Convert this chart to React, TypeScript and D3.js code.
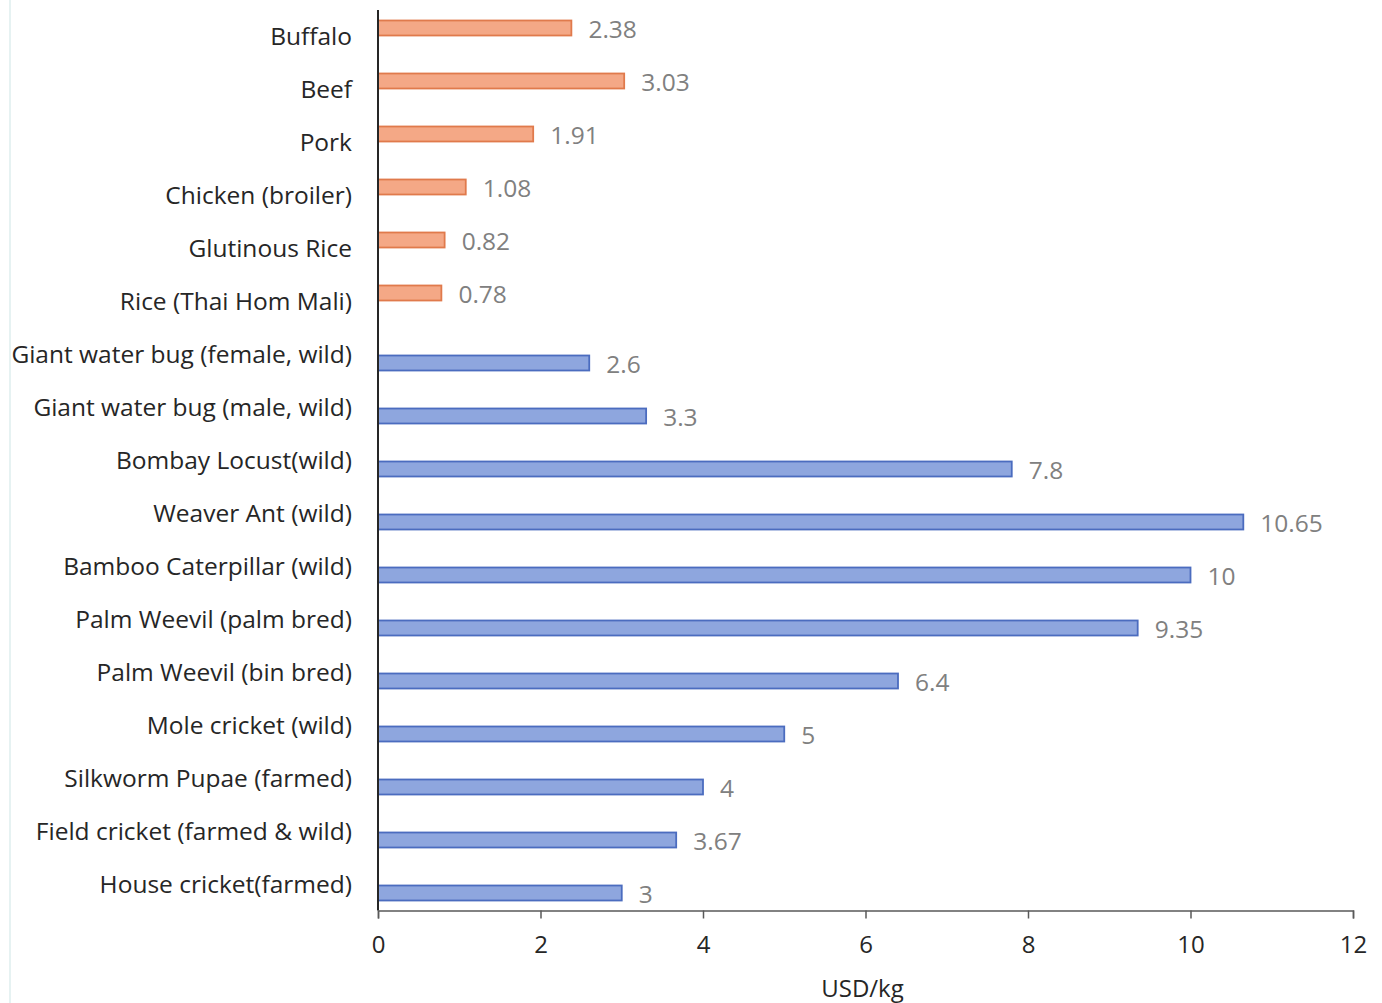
import { useEffect, useRef } from "react";
import * as d3 from "d3";

// foods (orange, upper slot) and insects (blue, lower slot)
const categories = [
  "Buffalo",
  "Beef",
  "Pork",
  "Chicken (broiler)",
  "Glutinous Rice",
  "Rice (Thai Hom Mali)",
  "Giant water bug (female, wild)",
  "Giant water bug (male, wild)",
  "Bombay Locust(wild)",
  "Weaver Ant (wild)",
  "Bamboo Caterpillar (wild)",
  "Palm Weevil (palm bred)",
  "Palm Weevil (bin bred)",
  "Mole cricket (wild)",
  "Silkworm Pupae (farmed)",
  "Field cricket (farmed & wild)",
  "House cricket(farmed)",
];
const foodValues = [2.38, 3.03, 1.91, 1.08, 0.82, 0.78, null, null, null, null, null, null, null, null, null, null, null];
const insectValues = [null, null, null, null, null, null, 2.6, 3.3, 7.8, 10.65, 10, 9.35, 6.4, 5, 4, 3.67, 3];
const xTicks = [0, 2, 4, 6, 8, 10, 12];
const seriesKeys = ["food", "insect"];

const W = 1382;
const H = 1003;
const FONT = "'Open Sans', Lato, sans-serif";

function XAxis({ scale, y }: { scale: d3.ScaleLinear<number, number>; y: number }) {
  const ref = useRef<SVGGElement>(null);
  useEffect(() => {
    if (!ref.current) return;
    const g = d3.select(ref.current);
    g.call(d3.axisBottom(scale).tickValues(xTicks).tickSize(8).tickPadding(17).tickFormat(d3.format("d")));
    g.select(".domain").attr("stroke", "#595959").attr("stroke-width", 1.5);
    g.selectAll(".tick line").attr("stroke", "#595959").attr("stroke-width", 1.5);
    g.selectAll(".tick text")
      .attr("font-family", FONT)
      .attr("font-size", 24)
      .attr("fill", "#262626");
  }, [scale]);
  return <g ref={ref} transform={`translate(0,${y})`} />;
}

export default function App() {
  const left = 378;
  const right = 1353;
  const top = 9.5;
  const bottom = 910.5;

  const x = d3.scaleLinear().domain([0, 12]).range([left, right]);
  const y = d3.scaleBand().domain(categories).range([top, bottom]).padding(0);
  const inner = d3.scaleBand().domain(seriesKeys).range([11, 43]).paddingInner(2 / 17).paddingOuter(0);

  const rows = categories.map((c, i) => ({
    c,
    food: foodValues[i],
    insect: insectValues[i],
  }));

  const styles: Record<string, { fill: string; stroke: string }> = {
    food: { fill: "#F4A886", stroke: "#E07A4C" },
    insect: { fill: "#8EA6DE", stroke: "#4B6CBF" },
  };

  return (
    <svg width={W} height={H} style={{ position: "absolute", left: 0, top: 0, background: "#fff" }}>
      <line x1={10} x2={10} y1={0} y2={H} stroke="#e6f2f2" strokeWidth={2} />
      {rows.map((r) =>
        seriesKeys.map((k) => {
          const v = (r as any)[k] as number | null;
          if (v == null) return null;
          const y0 = (y(r.c) as number) + (inner(k) as number);
          const bw = inner.bandwidth();
          return (
            <g key={`${r.c}-${k}`}>
              <rect
                x={x(0)}
                y={y0}
                width={x(v) - x(0)}
                height={bw}
                fill={styles[k].fill}
                stroke={styles[k].stroke}
                strokeWidth={1.8}
              />
              <text
                x={x(v) + 17}
                y={y0 + bw / 2 + 1}
                dy="0.35em"
                fontFamily={FONT}
                fontSize={24.5}
                fill="#808080"
              >
                {String(v)}
              </text>
            </g>
          );
        })
      )}
      {categories.map((c) => (
        <text
          key={c}
          x={352}
          y={(y(c) as number) + y.bandwidth() / 2}
          dy="0.35em"
          textAnchor="end"
          fontFamily={FONT}
          fontSize={24.5}
          fill="#262626"
        >
          {c}
        </text>
      ))}
      <line x1={left} x2={left} y1={10} y2={bottom} stroke="#262626" strokeWidth={2} />
      <XAxis scale={x} y={bottom} />
      <text
        x={(left + right) / 2 - 3}
        y={989}
        dy="0.35em"
        textAnchor="middle"
        fontFamily={FONT}
        fontSize={24}
        fill="#262626"
      >
        USD/kg
      </text>
    </svg>
  );
}
